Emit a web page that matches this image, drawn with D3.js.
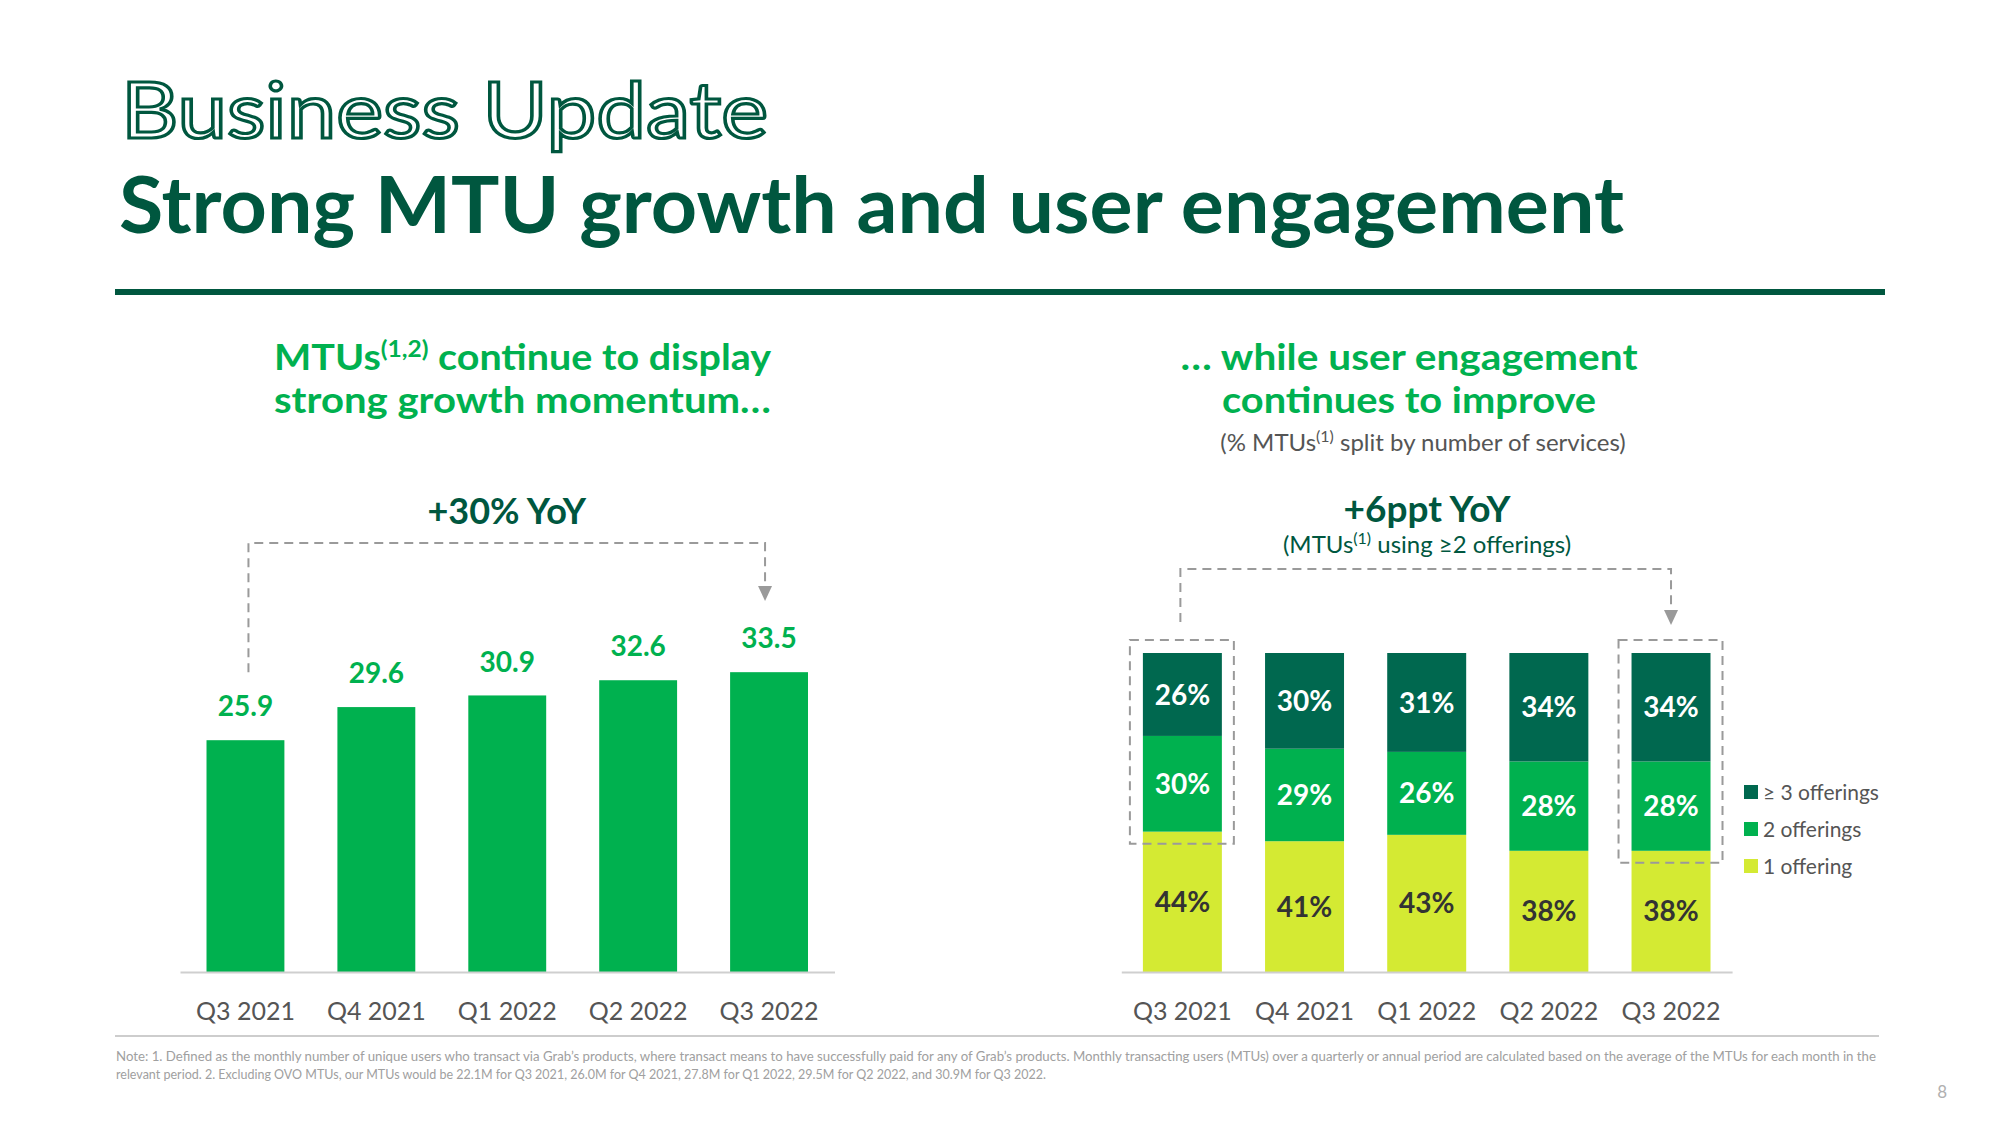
<!DOCTYPE html>
<html>
<head>
<meta charset="utf-8">
<script src="https://cdn.jsdelivr.net/npm/d3@7"></script>
<style>
  html, body { margin: 0; padding: 0; background: #fff; }
  svg { display: block; }
  text { font-family: Lato, "Open Sans", sans-serif; }
</style>
</head>
<body>
<svg id="chart" width="2000" height="1125"></svg>
<script>
// ---------- data ----------
const categories = ["Q3 2021", "Q4 2021", "Q1 2022", "Q2 2022", "Q3 2022"];
const mtuValues = [25.9, 29.6, 30.9, 32.6, 33.5];
const oneOffering = [44, 41, 43, 38, 38];
const twoOfferings = [30, 29, 26, 28, 28];
const threePlusOfferings = [26, 30, 31, 34, 34];
const seriesKeys = ["one", "two", "three"];
const legendLabels = ["≥ 3 offerings", "2 offerings", "1 offering"];
const leftAnnotation = "+30% YoY";
const rightAnnotation = "+6ppt YoY";

// ---------- styling ----------
const DARK = "#00573F";
const GREEN = "#00B14F";
const SEG_COLORS = { one: "#D4EA33", two: "#00B14F", three: "#00684F" };
const GRAY_DASH = "#9a9a9a";

const svg = d3.select("#chart");

// ---------- header ----------
svg.append("text")
  .attr("x", 121).attr("y", 138)
  .attr("font-size", 78).attr("font-weight", 400)
  .attr("fill", "#fff").attr("stroke", DARK).attr("stroke-width", 3.2)
  .attr("textLength", 647).attr("lengthAdjust", "spacingAndGlyphs")
  .text("Business Update");

svg.append("text")
  .attr("x", 119).attr("y", 233)
  .attr("font-size", 78).attr("font-weight", 700)
  .attr("fill", DARK)
  .attr("textLength", 1505).attr("lengthAdjust", "spacingAndGlyphs")
  .text("Strong MTU growth and user engagement");

svg.append("rect").attr("x", 115).attr("y", 289).attr("width", 1770).attr("height", 6).attr("fill", DARK);

// ---------- left subtitle ----------
const lt = svg.append("text").attr("x", 274).attr("y", 370)
  .attr("font-size", 37).attr("font-weight", 700).attr("fill", GREEN)
  .attr("textLength", 497).attr("lengthAdjust", "spacingAndGlyphs");
lt.append("tspan").text("MTUs");
lt.append("tspan").attr("font-size", 23).attr("dy", -13).text("(1,2)");
lt.append("tspan").attr("dy", 13).text(" continue to display");
svg.append("text").attr("x", 274).attr("y", 413)
  .attr("font-size", 37).attr("font-weight", 700).attr("fill", GREEN)
  .attr("textLength", 497).attr("lengthAdjust", "spacingAndGlyphs")
  .text("strong growth momentum…");

// ---------- right subtitle ----------
svg.append("text").attr("x", 1409).attr("y", 370).attr("text-anchor", "middle")
  .attr("font-size", 37).attr("font-weight", 700).attr("fill", GREEN)
  .attr("textLength", 457).attr("lengthAdjust", "spacingAndGlyphs")
  .text("… while user engagement");
svg.append("text").attr("x", 1409).attr("y", 413).attr("text-anchor", "middle")
  .attr("font-size", 37).attr("font-weight", 700).attr("fill", GREEN)
  .attr("textLength", 374).attr("lengthAdjust", "spacingAndGlyphs")
  .text("continues to improve");
const rs = svg.append("text").attr("x", 1423).attr("y", 451).attr("text-anchor", "middle")
  .attr("font-size", 24).attr("fill", "#555");
rs.append("tspan").text("(% MTUs");
rs.append("tspan").attr("font-size", 16).attr("dy", -9).text("(1)");
rs.append("tspan").attr("dy", 9).text(" split by number of services)");

// ---------- LEFT CHART ----------
const x1 = d3.scaleBand().domain(categories).range([180, 834.5])
  .paddingInner(0.405).paddingOuter(0.2025);
const y1 = d3.scaleLinear().domain([0, 35]).range([972, 972 - 35 * 8.95]);

const left = svg.append("g");
left.selectAll("rect.bar").data(categories).join("rect")
  .attr("class", "bar")
  .attr("x", d => x1(d)).attr("width", x1.bandwidth())
  .attr("y", (d, i) => y1(mtuValues[i]))
  .attr("height", (d, i) => y1(0) - y1(mtuValues[i]))
  .attr("fill", GREEN);

left.selectAll("text.val").data(categories).join("text")
  .attr("class", "val")
  .attr("x", d => x1(d) + x1.bandwidth() / 2)
  .attr("y", (d, i) => y1(mtuValues[i]) - 34)
  .attr("dy", "0.36em")
  .attr("text-anchor", "middle")
  .attr("font-size", 28).attr("font-weight", 700).attr("fill", GREEN)
  .text((d, i) => d3.format(".1f")(mtuValues[i]));

const ax1 = svg.append("g").attr("transform", "translate(0,972)")
  .call(d3.axisBottom(x1).tickSize(0).tickSizeOuter(0));
ax1.select(".domain").attr("stroke", "#cfcfcf").attr("stroke-width", 2);
ax1.selectAll("text").attr("y", 39).attr("dy", "0.36em")
  .attr("font-size", 25).attr("fill", "#555").attr("font-family", "Lato, sans-serif");

// left bracket
const lx0 = x1(categories[0]) + x1.bandwidth() / 2 + 3;
const lx1 = x1(categories[4]) + x1.bandwidth() / 2 - 4;
const lyTop = 543;
svg.append("path")
  .attr("d", `M${lx0},${y1(mtuValues[0]) - 68} V${lyTop} H${lx1} V${586}`)
  .attr("fill", "none").attr("stroke", GRAY_DASH).attr("stroke-width", 2)
  .attr("stroke-dasharray", "9,6");
svg.append("path")
  .attr("d", `M${lx1 - 7},586 L${lx1 + 7},586 L${lx1},601 Z`).attr("fill", GRAY_DASH);

svg.append("text").attr("x", (lx0 + lx1) / 2).attr("y", 511).attr("dy", "0.36em")
  .attr("text-anchor", "middle").attr("font-size", 36).attr("font-weight", 700)
  .attr("fill", DARK).text(leftAnnotation);

// ---------- RIGHT CHART ----------
const x2 = d3.scaleBand().domain(categories).range([1121.3, 1732.1])
  .paddingInner(0.3535).paddingOuter(0.17675);
const y2 = d3.scaleLinear().domain([0, 100]).range([972, 653]);

const table = categories.map((c, i) => ({
  cat: c, one: oneOffering[i], two: twoOfferings[i], three: threePlusOfferings[i]
}));
const stacked = d3.stack().keys(seriesKeys)(table);

const right = svg.append("g");
const layers = right.selectAll("g.layer").data(stacked).join("g")
  .attr("class", "layer").attr("fill", d => SEG_COLORS[d.key]);
layers.selectAll("rect").data(d => d).join("rect")
  .attr("x", d => x2(d.data.cat)).attr("width", x2.bandwidth())
  .attr("y", d => y2(d[1])).attr("height", d => y2(d[0]) - y2(d[1]));

layers.each(function(layer) {
  d3.select(this).selectAll("text").data(layer).join("text")
    .attr("x", d => x2(d.data.cat) + x2.bandwidth() / 2)
    .attr("y", d => (y2(d[0]) + y2(d[1])) / 2)
    .attr("dy", "0.36em").attr("text-anchor", "middle")
    .attr("font-size", 28).attr("font-weight", 700)
    .attr("fill", layer.key === "one" ? "#333" : "#fff")
    .text(d => (d[1] - d[0]) + "%");
});

const ax2 = svg.append("g").attr("transform", "translate(0,972)")
  .call(d3.axisBottom(x2).tickSize(0).tickSizeOuter(0));
ax2.select(".domain").attr("stroke", "#cfcfcf").attr("stroke-width", 2);
ax2.selectAll("text").attr("y", 39).attr("dy", "0.36em")
  .attr("font-size", 25).attr("fill", "#555").attr("font-family", "Lato, sans-serif");

// dashed boxes around first & last bars (top two segments)
[0, 4].forEach(i => {
  const c = categories[i];
  const bx = x2(c) - 13, bw = x2.bandwidth() + 25;
  const top = y2(100) - 13;
  const bottom = y2(oneOffering[i]) + 12;
  svg.append("rect").attr("x", bx).attr("y", top).attr("width", bw).attr("height", bottom - top)
    .attr("fill", "none").attr("stroke", GRAY_DASH).attr("stroke-width", 2)
    .attr("stroke-dasharray", "9,6");
});

// right bracket
const rx0 = x2(categories[0]) + x2.bandwidth() / 2 - 2;
const rx1 = x2(categories[4]) + x2.bandwidth() / 2;
svg.append("path")
  .attr("d", `M${rx0},622 V569 H${rx1} V610`)
  .attr("fill", "none").attr("stroke", GRAY_DASH).attr("stroke-width", 2)
  .attr("stroke-dasharray", "9,6");
svg.append("path")
  .attr("d", `M${rx1 - 7},610 L${rx1 + 7},610 L${rx1},625 Z`).attr("fill", GRAY_DASH);

svg.append("text").attr("x", 1427).attr("y", 509).attr("dy", "0.36em")
  .attr("text-anchor", "middle").attr("font-size", 37).attr("font-weight", 700)
  .attr("fill", DARK).text(rightAnnotation);
const ru = svg.append("text").attr("x", 1427).attr("y", 553)
  .attr("text-anchor", "middle").attr("font-size", 24).attr("fill", DARK);
ru.append("tspan").text("(MTUs");
ru.append("tspan").attr("font-size", 16).attr("dy", -9).text("(1)");
ru.append("tspan").attr("dy", 9).text(" using ≥2 offerings)");

// legend
const legendKeys = ["three", "two", "one"];
const lg = svg.append("g").attr("transform", "translate(1744,792)");
legendKeys.forEach((k, i) => {
  const g = lg.append("g").attr("transform", `translate(0,${i * 37})`);
  g.append("rect").attr("x", 0).attr("y", -7).attr("width", 14).attr("height", 14).attr("fill", SEG_COLORS[k]);
  g.append("text").attr("x", 19).attr("y", 0).attr("dy", "0.36em")
    .attr("font-size", 21).attr("fill", "#555").text(legendLabels[i]);
});

// ---------- footer ----------
svg.append("line").attr("x1", 115).attr("x2", 1879).attr("y1", 1036).attr("y2", 1036)
  .attr("stroke", "#bdbdbd").attr("stroke-width", 1.5);
svg.append("text").attr("x", 116).attr("y", 1061)
  .attr("font-family", "'Liberation Sans Narrow', sans-serif").attr("font-size", 12.5).attr("fill", "#a0a0a0")
  .attr("textLength", 1760).attr("lengthAdjust", "spacingAndGlyphs")
  .text("Note: 1. Defined as the monthly number of unique users who transact via Grab’s products, where transact means to have successfully paid for any of Grab’s products. Monthly transacting users (MTUs) over a quarterly or annual period are calculated based on the average of the MTUs for each month in the");
svg.append("text").attr("x", 116).attr("y", 1079)
  .attr("font-family", "'Liberation Sans Narrow', sans-serif").attr("font-size", 12.5).attr("fill", "#a0a0a0")
  .attr("textLength", 930).attr("lengthAdjust", "spacingAndGlyphs")
  .text("relevant period. 2. Excluding OVO MTUs, our MTUs would be 22.1M for Q3 2021, 26.0M for Q4 2021, 27.8M for Q1 2022, 29.5M for Q2 2022, and 30.9M for Q3 2022.");
svg.append("text").attr("x", 1947).attr("y", 1098).attr("text-anchor", "end")
  .attr("font-size", 17).attr("fill", "#b0b0b0").text("8");
</script>
</body>
</html>
